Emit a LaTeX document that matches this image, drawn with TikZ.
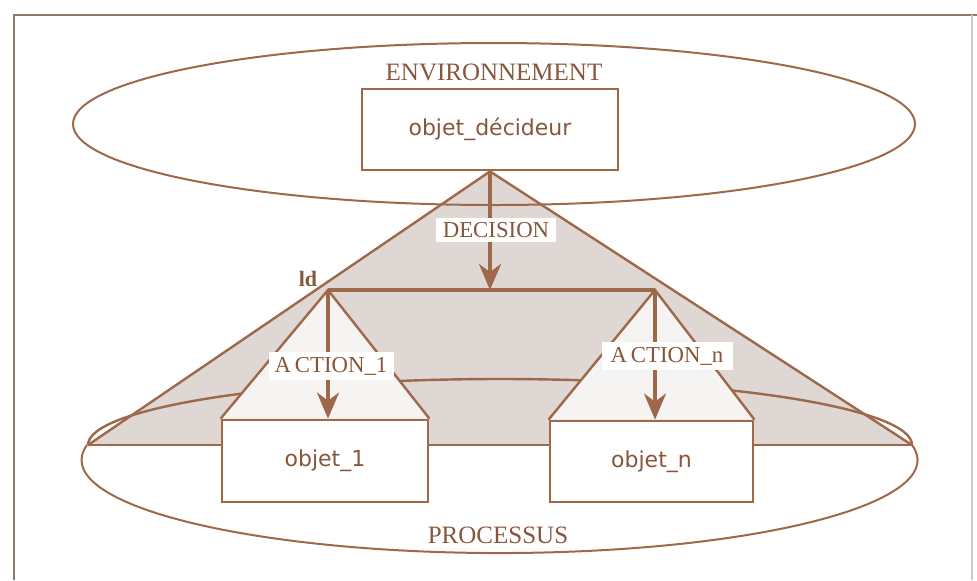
\documentclass[tikz,border=0pt]{standalone}
\usepackage{fontspec}
\setmainfont{Liberation Serif}
\newfontfamily\objfont{DejaVu Sans}
\usetikzlibrary{shapes.geometric,arrows.meta,calc}

\definecolor{ink}{RGB}{158,104,74}
\definecolor{txt}{RGB}{135,86,60}
\definecolor{conegray}{RGB}{222,215,212}
\definecolor{pale}{RGB}{246,244,243}
\definecolor{rule}{RGB}{150,118,105}

\pgfdeclarelayer{back}
\pgfdeclarelayer{mid}
\pgfsetlayers{back,mid,main}

\tikzset{
  objbox/.style={draw=ink, line width=1.4pt, fill=white, inner sep=0pt,
    text=txt, font=\objfont\fontsize{11}{13}\selectfont},
  caption/.style={text=txt, inner sep=0pt, font=\fontsize{12.5}{14}\selectfont},
  tag/.style={fill=white, text=txt, inner sep=0pt, font=\fontsize{11.4}{13}\selectfont},
  flow/.style={draw=ink, line width=1.7pt, -{Stealth[length=13pt,width=11pt,inset=4pt]}},
  edgeline/.style={draw=ink, line width=1.2pt},
  outline/.style={draw=ink, line width=1pt},
}

\begin{document}
\begin{tikzpicture}[x=0.5pt,y=-0.5pt]
\useasboundingbox (0,0) rectangle (977,580);

% environment ellipse and the deciding object
\node[ellipse, outline, minimum width=421pt, minimum height=81pt, inner sep=0pt] (env) at (494,124) {};
\node[caption] (envlabel) at (494,72) {ENVIRONNEMENT};
\node[objbox, minimum width=128pt, minimum height=40.5pt] (dec) at (490,129.5) {objet\_décideur};

% process objects
\node[objbox, minimum width=103pt, minimum height=41pt] (o1) at (325,461) {objet\_1};
\node[objbox, minimum width=101.5pt, minimum height=40.5pt] (on) at (651.5,461.5) {objet\_n};
\node[caption] (proclabel) at (498,535) {PROCESSUS};

% key points of the cone
\coordinate (ldL) at (328,290);
\coordinate (ldR) at (655,290);
\coordinate (bl) at (88,445);
\coordinate (br) at (912,445);

\begin{pgfonlayer}{back}
  % page frame
  \draw[rule, line width=0.8pt] (14,580) -- (14,15) -- (977,15);
  \draw[rule!40, line width=0.6pt] (972,15) -- (972,580);
  % grey cone from the decider down to the process
  \fill[conegray] (dec.south) -- (bl) -- (br) -- cycle;
  \draw[edgeline] (bl) -- (dec.south) -- (br);
  \draw[edgeline] (bl) -- (br);
  % rear rim of the process base
  \draw[edgeline] (br) arc[start angle=0, end angle=180, x radius=206pt, y radius=33pt];
  % front rim of the process ellipse
  \draw[outline] (br) arc[start angle=9.3, end angle=-189.3, x radius=209pt, y radius=46.5pt];
\end{pgfonlayer}

\begin{pgfonlayer}{mid}
  % light cones of each action
  \fill[pale] (ldL) -- (o1.north west) -- (o1.north east) -- cycle;
  \fill[pale] (ldR) -- (on.north west) -- (on.north east) -- cycle;
  \draw[edgeline] (o1.north west) -- (ldL) -- (o1.north east);
  \draw[edgeline] (on.north west) -- (ldR) -- (on.north east);
\end{pgfonlayer}

% decision bar
\draw[ink, line width=2.2pt] (ldL) -- (ldR);
\node[text=txt, inner sep=0pt, font=\bfseries\fontsize{11}{13}\selectfont] (ld) at (308,279) {ld};

% flows
\draw[flow] (dec.south) -- (dec.south |- ldL);
\draw[flow] (ldL) -- (ldL |- o1.north);
\draw[flow] (ldR) -- (ldR |- on.north);

% flow labels
\node[tag, minimum width=60pt, minimum height=12pt] (decision) at (496,230) {DECISION};
\node[tag, minimum width=62.5pt, minimum height=14pt] (action1) at (331,366) {A\,CTION\_1};
\node[tag, minimum width=65.5pt, minimum height=14pt] (actionn) at (667,356) {A\,CTION\_n};
\end{tikzpicture}
\end{document}
